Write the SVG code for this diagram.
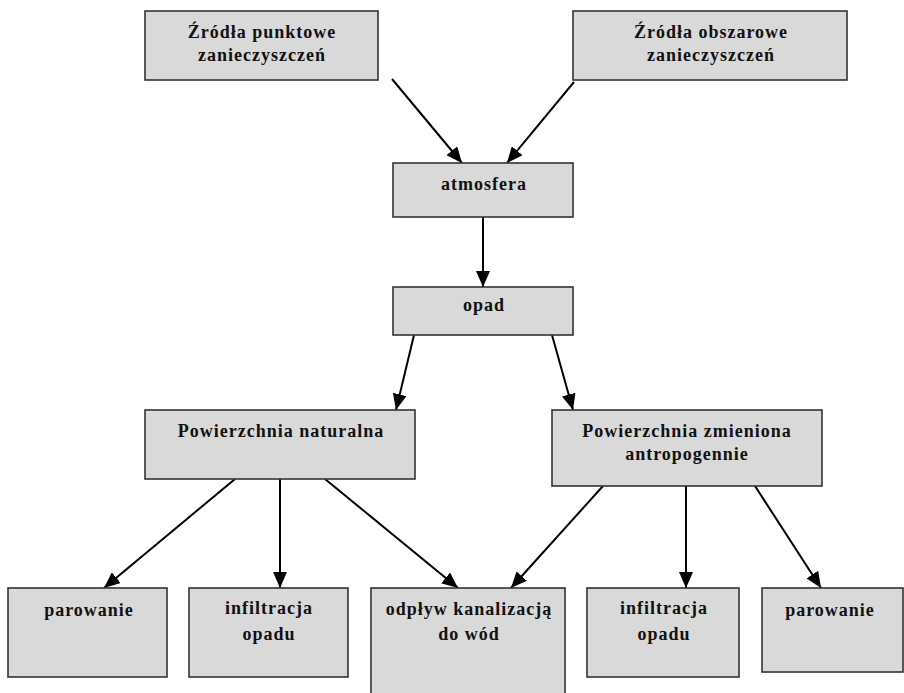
<svg xmlns="http://www.w3.org/2000/svg" width="904" height="693" viewBox="0 0 904 693">
<defs>
<style>
.box{fill:#d9d9d9;stroke:#333;stroke-width:1.6}
.t{font-family:"Liberation Serif","Times New Roman",serif;font-weight:bold;font-size:18px;letter-spacing:1px;fill:#111;text-anchor:middle}
.c{stroke:#000;stroke-width:2;fill:none;marker-end:url(#ah)}
</style>
<marker id="ah" viewBox="0 0 16 14" refX="16" refY="7" markerWidth="16" markerHeight="14" markerUnits="userSpaceOnUse" orient="auto">
<path d="M0,0 L16,7 L0,14 z" fill="#000"/>
</marker>
</defs>
<rect width="904" height="693" fill="#fff"/>
<g id="connectors">
<line class="c" x1="392" y1="79" x2="462" y2="163"/>
<line class="c" x1="574" y1="82" x2="507" y2="163"/>
<line class="c" x1="483" y1="217" x2="483" y2="287"/>
<line class="c" x1="414" y1="335" x2="396" y2="410"/>
<line class="c" x1="552" y1="335" x2="573" y2="410"/>
<line class="c" x1="235" y1="479" x2="104" y2="588"/>
<line class="c" x1="280" y1="479" x2="280" y2="588"/>
<line class="c" x1="325" y1="479" x2="458" y2="588"/>
<line class="c" x1="603" y1="486" x2="511" y2="588"/>
<line class="c" x1="686" y1="486" x2="686" y2="588"/>
<line class="c" x1="755" y1="486" x2="821" y2="588"/>
</g>
<g id="zrodla-punktowe">
<rect class="box" x="145" y="11" width="233" height="69"/>
<text class="t" x="262" y="38">Źródła punktowe</text>
<text class="t" x="262" y="61">zanieczyszczeń</text>
</g>
<g id="zrodla-obszarowe">
<rect class="box" x="573" y="11" width="274" height="69"/>
<text class="t" x="711" y="38">Źródła obszarowe</text>
<text class="t" x="711" y="61">zanieczyszczeń</text>
</g>
<g id="atmosfera">
<rect class="box" x="393" y="163" width="180" height="54"/>
<text class="t" x="484" y="190">atmosfera</text>
</g>
<g id="opad">
<rect class="box" x="393" y="287" width="180" height="48"/>
<text class="t" x="484" y="311">opad</text>
</g>
<g id="pow-naturalna">
<rect class="box" x="145" y="410" width="270" height="69"/>
<text class="t" x="281" y="437">Powierzchnia naturalna</text>
</g>
<g id="pow-zmieniona">
<rect class="box" x="552" y="410" width="270" height="76"/>
<text class="t" x="687" y="437">Powierzchnia zmieniona</text>
<text class="t" x="687" y="460">antropogennie</text>
</g>
<g id="parowanie-1">
<rect class="box" x="8" y="588" width="159" height="89"/>
<text class="t" x="89" y="616">parowanie</text>
</g>
<g id="infiltracja-1">
<rect class="box" x="189" y="588" width="159" height="89"/>
<text class="t" x="269" y="614">infiltracja</text>
<text class="t" x="269" y="640">opadu</text>
</g>
<g id="odplyw">
<rect class="box" x="371" y="588" width="194" height="106"/>
<text class="t" x="469" y="615">odpływ kanalizacją</text>
<text class="t" x="469" y="640">do wód</text>
</g>
<g id="infiltracja-2">
<rect class="box" x="587" y="588" width="152" height="89"/>
<text class="t" x="664" y="614">infiltracja</text>
<text class="t" x="664" y="640">opadu</text>
</g>
<g id="parowanie-2">
<rect class="box" x="762" y="588" width="141" height="84"/>
<text class="t" x="830" y="616">parowanie</text>
</g>
</svg>
